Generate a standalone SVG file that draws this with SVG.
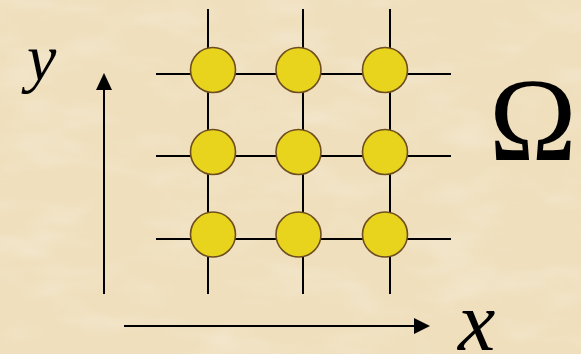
<svg xmlns="http://www.w3.org/2000/svg" width="581" height="354" viewBox="0 0 581 354">
  <defs>
    <style>
      .grid { stroke: #000; stroke-width: 2; fill: none; }
      .axis { stroke: #000; stroke-width: 2; fill: none; }
      .head { fill: #000; }
      .node { fill: #E8D41C; stroke: #6E4E1E; stroke-width: 1.6; }
      .lbl { font-family: "Liberation Serif", "Times New Roman", serif; fill: #000; }
      .it { font-style: italic; }
    </style>
    <filter id="paper" x="0" y="0" width="100%" height="100%">
      <feTurbulence type="fractalNoise" baseFrequency="0.012 0.03" numOctaves="3" seed="7" result="n"/>
      <feColorMatrix in="n" type="matrix" values="0 0 0 0 1  0 0 0 0 1  0 0 0 0 1  1.6 0 0 0 -0.75" />
    </filter>
  </defs>
  <rect x="0" y="0" width="581" height="354" fill="#EFDFBD"/>
  <rect x="0" y="0" width="581" height="354" filter="url(#paper)" opacity="0.35"/>

  <g id="connectors">
    <line class="grid" x1="208" y1="9" x2="208" y2="294"/>
    <line class="grid" x1="303" y1="9" x2="303" y2="294"/>
    <line class="grid" x1="390" y1="9" x2="390" y2="294"/>
    <line class="grid" x1="156" y1="74" x2="451" y2="74"/>
    <line class="grid" x1="156" y1="156" x2="451" y2="156"/>
    <line class="grid" x1="156" y1="239" x2="451" y2="239"/>
  </g>

  <g id="y-axis">
    <line class="axis" x1="104" y1="294" x2="104" y2="88"/>
    <polygon class="head" points="104,73 96,90 112,90"/>
  </g>
  <g id="x-axis">
    <line class="axis" x1="124" y1="326" x2="415" y2="326"/>
    <polygon class="head" points="430,326 414,318 414,334"/>
  </g>

  <g id="n11"><circle class="node" cx="213" cy="70" r="22.5"/></g>
  <g id="n12"><circle class="node" cx="298.5" cy="70" r="22.5"/></g>
  <g id="n13"><circle class="node" cx="385" cy="70" r="22.5"/></g>
  <g id="n21"><circle class="node" cx="213" cy="152" r="22.5"/></g>
  <g id="n22"><circle class="node" cx="298.5" cy="152" r="22.5"/></g>
  <g id="n23"><circle class="node" cx="385" cy="152" r="22.5"/></g>
  <g id="n31"><circle class="node" cx="213" cy="234.5" r="22.5"/></g>
  <g id="n32"><circle class="node" cx="298.5" cy="234.5" r="22.5"/></g>
  <g id="n33"><circle class="node" cx="385" cy="234.5" r="22.5"/></g>

  <g id="labels">
    <text class="lbl it" x="27" y="80" font-size="66">y</text>
    <text class="lbl it" x="458" y="350" font-size="84">x</text>
    <text class="lbl" x="489" y="160" font-size="118">Ω</text>
  </g>
</svg>
